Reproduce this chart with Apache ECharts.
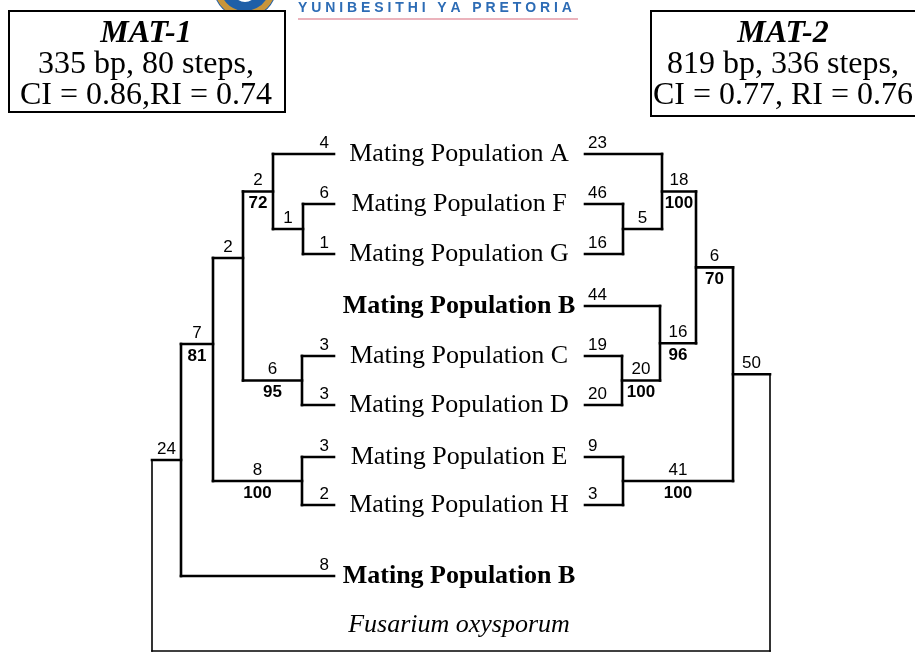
<!DOCTYPE html>
<html>
<head>
<meta charset="utf-8">
<script src="https://cdn.jsdelivr.net/npm/echarts@6/dist/echarts.min.js"></script>
<style>
  html, body { margin: 0; padding: 0; background: #fff; }
  #chart { width: 915px; height: 652px; }
</style>
</head>
<body>
<div id="chart"></div>
<script>
// 类群（自上而下），TAXON_ROW 为每个末端枝所在的行位置
const TAXA = [
  'Mating Population A', 'Mating Population F', 'Mating Population G', 'Mating Population B',
  'Mating Population C', 'Mating Population D', 'Mating Population E', 'Mating Population H',
  'Mating Population B', 'Fusarium oxysporum'
];
const TAXON_ROW = [154, 204, 254, 306, 356, 405, 457, 505, 576, 625];
const TAXON_KIND = ['normal', 'normal', 'normal', 'bold', 'normal', 'normal', 'normal', 'normal', 'bold', 'italic'];
const OUTGROUP_ROW = 651;

// MAT-1 树（左）：[节点, 深度, [[子节点, 步数, 自展值]], 绘制行(可选)]
// 子节点为数字 = TAXA 下标；'OUT' = 外类群
const MAT1_NODES = [
  ['L1', 303, [[1, 6], [2, 1]]],
  ['L2', 273, [[0, 4], ['L1', 1]]],
  ['L3', 302, [[4, 3], [5, 3]]],
  ['L4', 243, [['L2', 2, 72], ['L3', 6, 95]], 258],
  ['L5', 302, [[6, 3], [7, 2]]],
  ['L6', 213, [['L4', 2], ['L5', 8, 100]], 344],
  ['L7', 181, [['L6', 7, 81], [8, 8]]],
  ['L0', 152, [['L7', 24], ['OUT']]]
];
const MAT1_TIP = 334;

// MAT-2 树（右，镜像）
const MAT2_NODES = [
  ['R1', 623, [[1, 46], [2, 16]]],
  ['R2', 662, [[0, 23], ['R1', 5]]],
  ['R3', 622, [[4, 19], [5, 20]]],
  ['R4', 660, [[3, 44], ['R3', 20, 100]]],
  ['R5', 696, [['R2', 18, 100], ['R4', 16, 96]]],
  ['R6', 623, [[6, 9], [7, 3]]],
  ['R7', 733, [['R5', 6, 70], ['R6', 41, 100]]],
  ['R0', 770, [['R7', 50], ['OUT']]]
];
const MAT2_TIP = 585;

const MAT1_STATS = ['MAT-1', '335 bp, 80 steps,', 'CI = 0.86,RI = 0.74'];
const MAT2_STATS = ['MAT-2', '819 bp, 336 steps,', 'CI = 0.77, RI = 0.76'];

const segments = [];   // [x1, y1, x2, y2, lineWidth]
const labels = [];     // {x, y, text, align, kind}

// 把一棵树转成线段和枝长/自展值标注
function buildTree(nodes, tip, side) {
  const pos = {};
  TAXON_ROW.forEach((row, i) => { pos[i] = { x: tip, y: row }; });
  let root = null;
  nodes.forEach(([id, depth, kids, drawnRow], n) => {
    const isRoot = n === nodes.length - 1;
    const ys = kids.map(k => k[0] === 'OUT' ? OUTGROUP_ROW : pos[k[0]].y);
    const inner = kids.filter(k => k[0] !== 'OUT').map(k => pos[k[0]].y);
    const y = drawnRow != null ? drawnRow : inner.reduce((a, b) => a + b, 0) / inner.length;
    pos[id] = { x: depth, y };
    segments.push([depth, Math.min(...ys), depth, Math.max(...ys), isRoot ? 1.6 : 2.6]);
    kids.forEach(([child, steps, boot]) => {
      if (child === 'OUT') return;
      const c = pos[child];
      const leaf = typeof child === 'number';
      segments.push([depth, c.y, c.x, c.y, 2.6]);
      let lx, align;
      if (leaf) {
        lx = side === 'left' ? tip - 5 : tip + 3;
        align = side === 'left' ? 'right' : 'left';
      } else {
        lx = (depth + c.x) / 2;
        align = 'center';
      }
      if (steps != null) labels.push({ x: lx, y: c.y - 11, text: String(steps), align, kind: 'num' });
      if (boot != null) labels.push({ x: lx, y: c.y + 12, text: String(boot), align, kind: 'boot' });
    });
    if (isRoot) root = pos[id];
  });
  return root;
}

const leftRoot = buildTree(MAT1_NODES, MAT1_TIP, 'left');
const rightRoot = buildTree(MAT2_NODES, MAT2_TIP, 'right');
// 外类群枝连接两棵树的根
segments.push([leftRoot.x, OUTGROUP_ROW, rightRoot.x, OUTGROUP_ROW, 1.6]);

// 类群名称
TAXA.forEach((name, i) => {
  labels.push({ x: 459, y: TAXON_ROW[i], text: name, align: 'center', kind: TAXON_KIND[i] });
});

const FONTS = {
  num:    { fontFamily: 'Liberation Sans', fontSize: 17, fontWeight: 'normal', fontStyle: 'normal' },
  boot:   { fontFamily: 'Liberation Sans', fontSize: 17, fontWeight: 'bold', fontStyle: 'normal' },
  normal: { fontFamily: 'Liberation Serif', fontSize: 26, fontWeight: 'normal', fontStyle: 'normal' },
  bold:   { fontFamily: 'Liberation Serif', fontSize: 26, fontWeight: 'bold', fontStyle: 'normal' },
  italic: { fontFamily: 'Liberation Serif', fontSize: 26, fontWeight: 'normal', fontStyle: 'italic' }
};

// 左上/右上的统计信息框
function statsBox(lines, left, top, width, height, cx) {
  const els = [{
    type: 'rect', left, top,
    shape: { width, height },
    style: { fill: '#fff', stroke: '#000', lineWidth: 2 }
  }];
  lines.forEach((t, i) => {
    els.push({
      type: 'text', x: cx, y: top + 24 + i * 31,
      style: {
        text: t, fill: '#000', align: 'center', verticalAlign: 'middle',
        fontFamily: 'Liberation Serif', fontSize: 32,
        fontWeight: i === 0 ? 'bold' : 'normal', fontStyle: i === 0 ? 'italic' : 'normal'
      }
    });
  });
  return els;
}

const chart = echarts.init(document.getElementById('chart'));

chart.setOption({
  backgroundColor: '#fff',
  animation: false,
  grid: { left: 0, right: 0, top: 0, bottom: 0 },
  xAxis: { type: 'value', min: 0, max: 915, show: false },
  yAxis: { type: 'value', min: 0, max: 652, inverse: true, show: false },
  graphic: [
    // 校徽（局部）
    { type: 'sector', shape: { cx: 245, cy: -14, r: 32, r0: 0, startAngle: 0, endAngle: Math.PI }, style: { fill: '#1f5fa8' } },
    { type: 'arc', shape: { cx: 245, cy: -14, r: 28, startAngle: 0.3, endAngle: Math.PI - 0.3 }, style: { stroke: '#c8953a', lineWidth: 6, fill: null } },
    { type: 'circle', shape: { cx: 245, cy: -10, r: 12 }, style: { fill: '#fff' } },
    {
      type: 'text', x: 298, y: 8,
      style: {
        text: 'Y U N I B E S I T H I   Y A   P R E T O R I A', fill: '#2d6cb5',
        fontFamily: 'Liberation Sans', fontWeight: 'bold', fontSize: 14, verticalAlign: 'middle'
      }
    },
    { type: 'line', shape: { x1: 298, y1: 19, x2: 578, y2: 19 }, style: { stroke: '#e59aa6', lineWidth: 1.5 } },
    ...statsBox(MAT1_STATS, 8, 10, 276, 101, 146),
    ...statsBox(MAT2_STATS, 650, 10, 285, 105, 783)
  ],
  series: [
    {
      type: 'custom',
      name: 'branches',
      clip: false,
      encode: { x: [0, 2], y: [1, 3] },
      data: segments,
      renderItem: (params, api) => {
        const p1 = api.coord([api.value(0), api.value(1)]);
        const p2 = api.coord([api.value(2), api.value(3)]);
        return {
          type: 'line',
          shape: { x1: p1[0], y1: p1[1], x2: p2[0], y2: p2[1] },
          style: { stroke: '#000', lineWidth: api.value(4), lineCap: 'square' }
        };
      }
    },
    {
      type: 'custom',
      name: 'labels',
      clip: false,
      encode: { x: 0, y: 1 },
      data: labels.map(l => [l.x, l.y]),
      renderItem: (params, api) => {
        const l = labels[params.dataIndex];
        const p = api.coord([api.value(0), api.value(1)]);
        return {
          type: 'text', x: p[0], y: p[1],
          style: Object.assign({
            text: l.text, fill: '#000', align: l.align, verticalAlign: 'middle'
          }, FONTS[l.kind])
        };
      }
    }
  ]
});

window.addEventListener('resize', () => chart.resize());
</script>
</body>
</html>
